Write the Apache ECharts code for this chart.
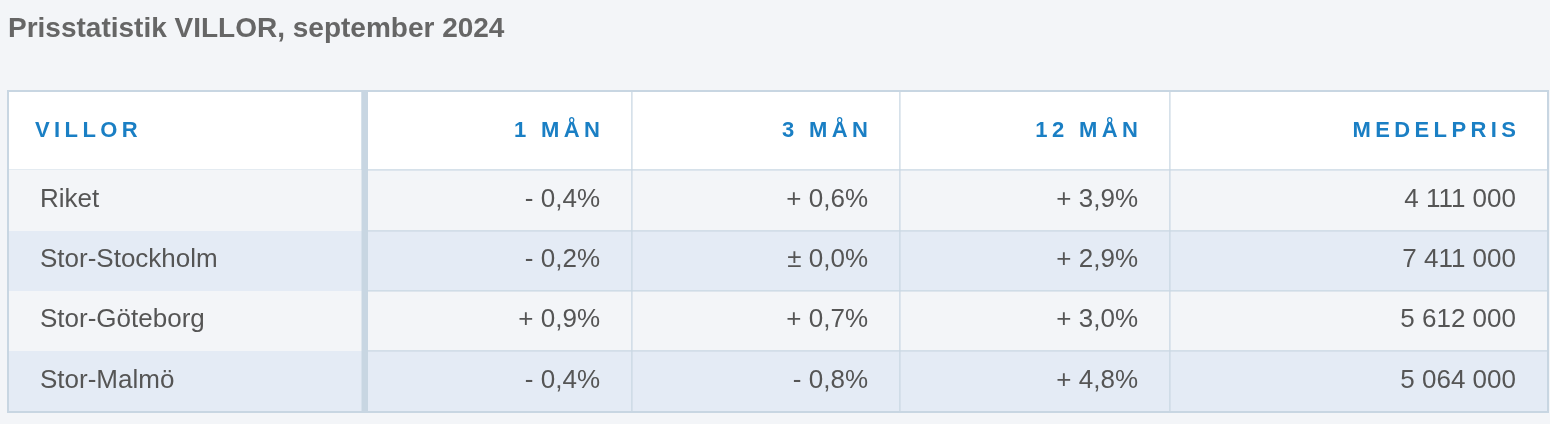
<!DOCTYPE html>
<html><head><meta charset="utf-8">
<script src="https://cdn.jsdelivr.net/npm/echarts@6/dist/echarts.min.js"></script>
<style>html,body{margin:0;background:#f3f5f8}#c{width:1550px;height:424px}</style>
</head><body><div id="c"></div>
<script>
var title = 'Prisstatistik VILLOR, september 2024';
var headers = ['VILLOR', '1 MÅN', '3 MÅN', '12 MÅN', 'MEDELPRIS'];
var regions = ['Riket', 'Stor-Stockholm', 'Stor-Göteborg', 'Stor-Malmö'];
var change1 = ['- 0,4%', '- 0,2%', '+ 0,9%', '- 0,4%'];
var change3 = ['+ 0,6%', '± 0,0%', '+ 0,7%', '- 0,8%'];
var change12 = ['+ 3,9%', '+ 2,9%', '+ 3,0%', '+ 4,8%'];
var meanPrice = ['4 111 000', '7 411 000', '5 612 000', '5 064 000'];

// layout (pixel units of the value axes)
var colEdges = [0, 354, 624, 892, 1162, 1540];
var rowEdges = [0, 79, 140, 200, 260, 321];

var columns = [regions, change1, change3, change12, meanPrice];
var cells = [];
headers.forEach(function (h, c) { cells.push([c, 0, h]); });
regions.forEach(function (r, i) {
  columns.forEach(function (col, c) { cells.push([c, i + 1, col[i]]); });
});

// header letter spacing
function spaced(s) { return s.split('').join('\u2009'); }

var chart = echarts.init(document.getElementById('c'));
chart.setOption({
  backgroundColor: '#f3f5f8',
  title: { text: title, left: 3, top: 10,
    textStyle: { fontSize: 28, color: '#666', fontWeight: 'bold', fontFamily: 'Liberation Sans, Arial' } },
  grid: { left: 8, right: 2, top: 91, bottom: 12 },
  xAxis: { type: 'value', min: 0, max: 1540, show: false },
  yAxis: { type: 'value', min: 0, max: 321, inverse: true, show: false },
  series: [{
    type: 'custom',
    data: cells,
    renderItem: function (params, api) {
      var c = api.value(0), r = api.value(1), txt = cells[params.dataIndex][2];
      var p0 = api.coord([colEdges[c], rowEdges[r]]);
      var p1 = api.coord([colEdges[c + 1], rowEdges[r + 1]]);
      var fill = r === 0 ? '#ffffff' : (r % 2 === 1 ? '#f3f5f8' : '#e4ebf5');
      var header = r === 0;
      var left = c === 0;
      return { type: 'group', children: [{
        type: 'rect',
        shape: { x: p0[0], y: p0[1], width: p1[0] - p0[0], height: p1[1] - p0[1] },
        style: { fill: fill, stroke: header || c > 0 ? '#c8d6e2' : null, lineWidth: 1 }
      }, {
        type: 'text',
        style: {
          text: header ? spaced(txt) : txt,
          x: left ? p0[0] + (header ? 27 : 32) : p1[0] - 32,
          y: (p0[1] + p1[1]) / 2 + (header ? 0 : -1),
          align: left ? 'left' : 'right', verticalAlign: 'middle',
          fill: header ? '#1a7fc4' : '#555',
          font: header ? 'bold 22px "Liberation Sans", Arial' : '26px "Liberation Sans", Arial'
        }
      }] };
    }
  }, {
    type: 'custom',
    data: [[0]],
    silent: true,
    renderItem: function (params, api) {
      var a = api.coord([0, 0]), b = api.coord([1540, 321]), s = api.coord([colEdges[1], 0]);
      return { type: 'group', children: [
        { type: 'rect', shape: { x: a[0], y: a[1], width: b[0] - a[0], height: b[1] - a[1] },
          style: { fill: null, stroke: '#c8d6e2', lineWidth: 2 } },
        { type: 'rect', shape: { x: s[0], y: a[1], width: 6, height: b[1] - a[1] },
          style: { fill: '#c8d6e2' } }
      ] };
    }
  }]
});
</script></body></html>
